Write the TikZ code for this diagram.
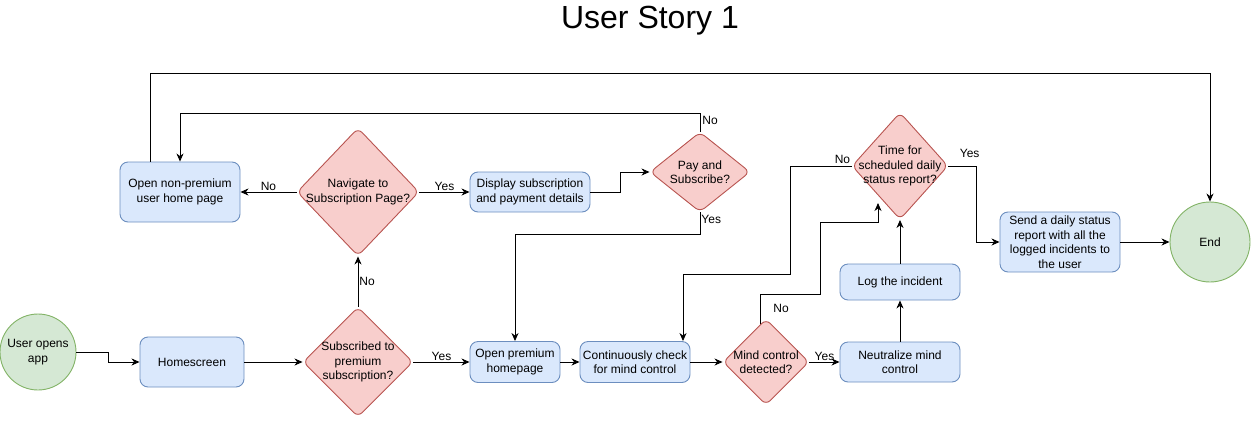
\documentclass[tikz,border=0pt]{standalone}
\usepackage{fontspec}
\setmainfont{Liberation Sans}
\usetikzlibrary{shapes.geometric,arrows.meta,calc}
\definecolor{bfill}{HTML}{DAE8FC}
\definecolor{bline}{HTML}{6C8EBF}
\definecolor{rfill}{HTML}{F8CECC}
\definecolor{rline}{HTML}{B85450}
\definecolor{gfill}{HTML}{D5E8D4}
\definecolor{gline}{HTML}{82B366}
\tikzset{
  every node/.style={font=\fontsize{12}{14.5}\selectfont, align=center},
  box/.style={rectangle, rounded corners=8pt, draw=bline, fill=bfill, line width=0.9pt, inner sep=0pt},
  dia/.style={diamond, rounded corners=6pt, draw=rline, fill=rfill, line width=0.9pt, inner sep=0pt},
  term/.style={circle, draw=gline, fill=gfill, line width=0.9pt, inner sep=0pt},
  arr/.style={line width=0.9pt, -{Stealth[length=8pt,width=7pt,inset=2.5pt]}},
  lbl/.style={inner sep=1pt}
}
\begin{document}
\begin{tikzpicture}[x=1pt,y=-1pt]
\useasboundingbox (0,0) rectangle (1251,421);
\node[font=\fontsize{32}{36}\selectfont] (title) at (650,21) {User Story 1};

% nodes
\node[term, minimum size=76pt] (start) at (38,352) {User opens\\app};
\node[box, minimum width=104pt, minimum height=50pt] (home) at (192,362) {Homescreen};
\node[dia, minimum width=110pt, minimum height=110pt, label={[align=center]center:Subscribed to\\premium\\subscription?}] (sub) at (358,362) {};
\node[dia, minimum width=122pt, minimum height=128pt, label={[align=center]center:Navigate to\\Subscription Page?}] (nav) at (358,192) {};
\node[box, minimum width=120pt, minimum height=60pt] (nonprem) at (180,192) {Open non-premium\\user home page};
\node[box, minimum width=120pt, minimum height=40pt] (disp) at (530,192) {Display subscription\\and payment details};
\node[dia, minimum width=100pt, minimum height=80pt, label={[align=center]center:Pay and\\Subscribe?}] (pay) at (700,172) {};
\node[box, minimum width=90pt, minimum height=41pt] (prem) at (515,362) {Open premium\\homepage};
\node[box, minimum width=110pt, minimum height=41pt] (cont) at (635,362) {Continuously check\\for mind control};
\node[dia, minimum width=86pt, minimum height=86pt, label={[align=center]center:Mind control\\detected?}] (mind) at (766,362) {};
\node[box, minimum width=120pt, minimum height=40pt] (neut) at (900,362) {Neutralize mind\\control};
\node[box, minimum width=120pt, minimum height=36pt] (log) at (900,282) {Log the incident};
\node[dia, minimum width=96pt, minimum height=107pt, label={[align=center]center:Time for\\scheduled daily\\status report?}] (time) at (900,166) {};
\node[box, minimum width=120pt, minimum height=60pt] (send) at (1060,242) {Send a daily status\\report with all the\\logged incidents to\\the user};
\node[term, minimum size=80pt] (end) at (1210,242) {End};
\coordinate (tin) at (878,203);

% connectors
\draw[arr] (start.east) -- ++(32,0) |- (home.west);
\draw[arr] (home.east) -- (sub.west);
\draw[arr] (sub.north) -- node[lbl, right] {No} (nav.south);
\draw[arr] (nav.west) -- node[lbl, above] {No} (nonprem.east);
\draw[arr] (nav.east) -- node[lbl, above] {Yes} (disp.west);
\draw[arr] (disp.east) -- ++(30,0) |- (pay.west);
\draw[arr] (pay.north) -- ++(0,-18) node[lbl, anchor=north west, xshift=1pt, yshift=-1pt] {No} -| (nonprem.north);
\draw[arr] (pay.south) -- node[lbl, anchor=west, pos=0.3] {Yes} ++(0,22) -| (prem.north);
\draw[arr] (sub.east) -- node[lbl, above] {Yes} (prem.west);
\draw[arr] (prem.east) -- (cont.west);
\draw[arr] (cont.east) -- (mind.west);
\draw[arr] (mind.east) -- node[lbl, above] {Yes} (neut.west);
\draw[arr] (neut.north) -- (log.south);
\draw[arr] (log.north) -- (time.south);
\draw[arr] (mind.99) |- (820,294) -- (820,222) -| (tin);
\node[lbl] (nolbl) at (781,308) {No};
\draw[arr] (time.west) node[lbl, anchor=south east, yshift=1pt] {No} -| (790,274) -| ([xshift=48pt]cont.north);
\draw[arr] (time.east) node[lbl, anchor=south west, xshift=10pt, yshift=7pt] {Yes} -- ++(28,0) |- (send.west);
\draw[arr] (send.east) -- (end.west);
\draw[arr] ([xshift=-30pt]nonprem.north) -- ++(0,-88) -| (end.north);
\end{tikzpicture}
\end{document}
